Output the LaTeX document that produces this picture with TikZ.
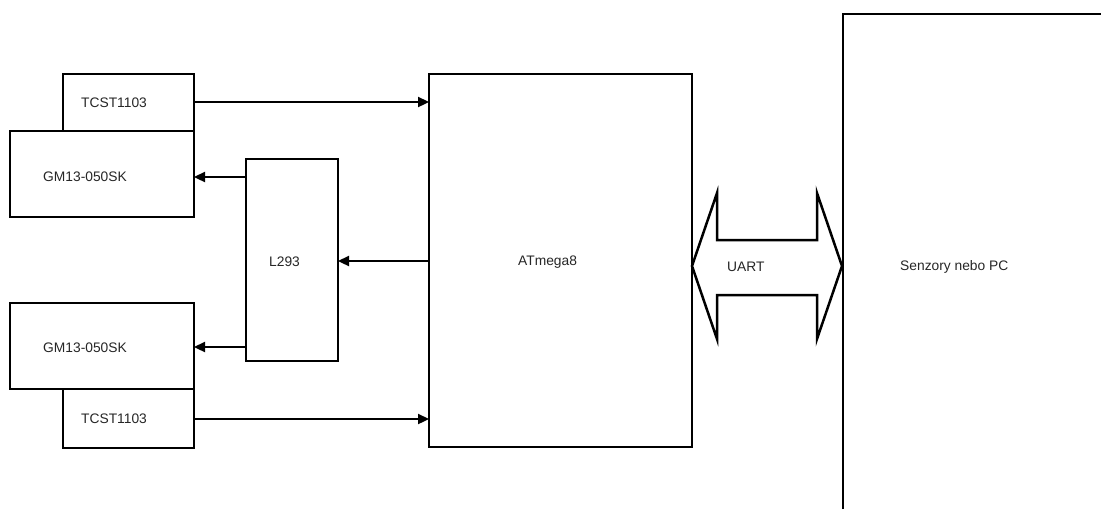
\documentclass[tikz,border=0pt]{standalone}
\usepackage{fontspec}
\setmainfont{Liberation Sans}
\usetikzlibrary{arrows.meta}
\begin{document}
\begin{tikzpicture}[x=1pt,y=-1pt,
  box/.style={draw=black, line width=2.5pt, fill=white, inner sep=0pt, outer sep=0pt},
  lbl/.style={font=\fontsize{13.8}{16}\selectfont, text=black!85, inner sep=0pt, anchor=west},
  conn/.style={line width=2.3pt, -{Triangle[length=11pt,width=10pt]}}]
\useasboundingbox (0,0) rectangle (1101,509);
% boxes
\node[box, minimum width=131pt, minimum height=57pt] (tcstA) at (128.5,102.5) {};
\node[box, minimum width=184pt, minimum height=86pt] (gmA) at (102,174) {};
\node[box, minimum width=184pt, minimum height=86pt] (gmB) at (102,346) {};
\node[box, minimum width=131pt, minimum height=59pt] (tcstB) at (128.5,418.5) {};
\node[box, minimum width=92pt, minimum height=202pt] (l293) at (292,260) {};
\node[box, minimum width=263pt, minimum height=373pt] (atm) at (560.5,260.5) {};
% right box (partially visible)
\coordinate (pcTop) at (843,14);
\coordinate (pcTR) at (1101,14);
\coordinate (pcBot) at (843,509);
\draw[line width=2.5pt] (pcBot) -- (pcTop) -- (pcTR);
% labels
\node[lbl] (tA) at (81,103) {TCST1103};
\node[lbl] (gA) at (43,177) {GM13-050SK};
\node[lbl] (gB) at (43,348) {GM13-050SK};
\node[lbl] (tB) at (81,419) {TCST1103};
\node[lbl] (lL) at (269,262) {L293};
\node[lbl] (aL) at (518,262) {ATmega8};
\node[lbl] (pcL) at (900,267) {Senzory nebo PC};
% connectors
\draw[conn] (tcstA.east |- 0,102) -- (atm.west |- 0,102);
\draw[conn] (tcstB.east |- 0,419) -- (atm.west |- 0,419);
\draw[conn] (l293.west |- 0,177) -- (gmA.east |- 0,177);
\draw[conn] (l293.west |- 0,347) -- (gmB.east |- 0,347);
\draw[conn] (atm.west |- 0,261) -- (l293.east |- 0,261);
% UART double arrow
\coordinate (uL) at (692,266);
\coordinate (uR) at (842,266);
\draw[line width=2.5pt, line join=miter, fill=white]
  (uL) -- (717,193) -- (717,240) -- (817,240) -- (817,193) -- (uR)
  -- (817,339) -- (817,295) -- (717,295) -- (717,339) -- cycle;
\node[lbl] (uart) at (727,267) {UART};
\end{tikzpicture}
\end{document}
